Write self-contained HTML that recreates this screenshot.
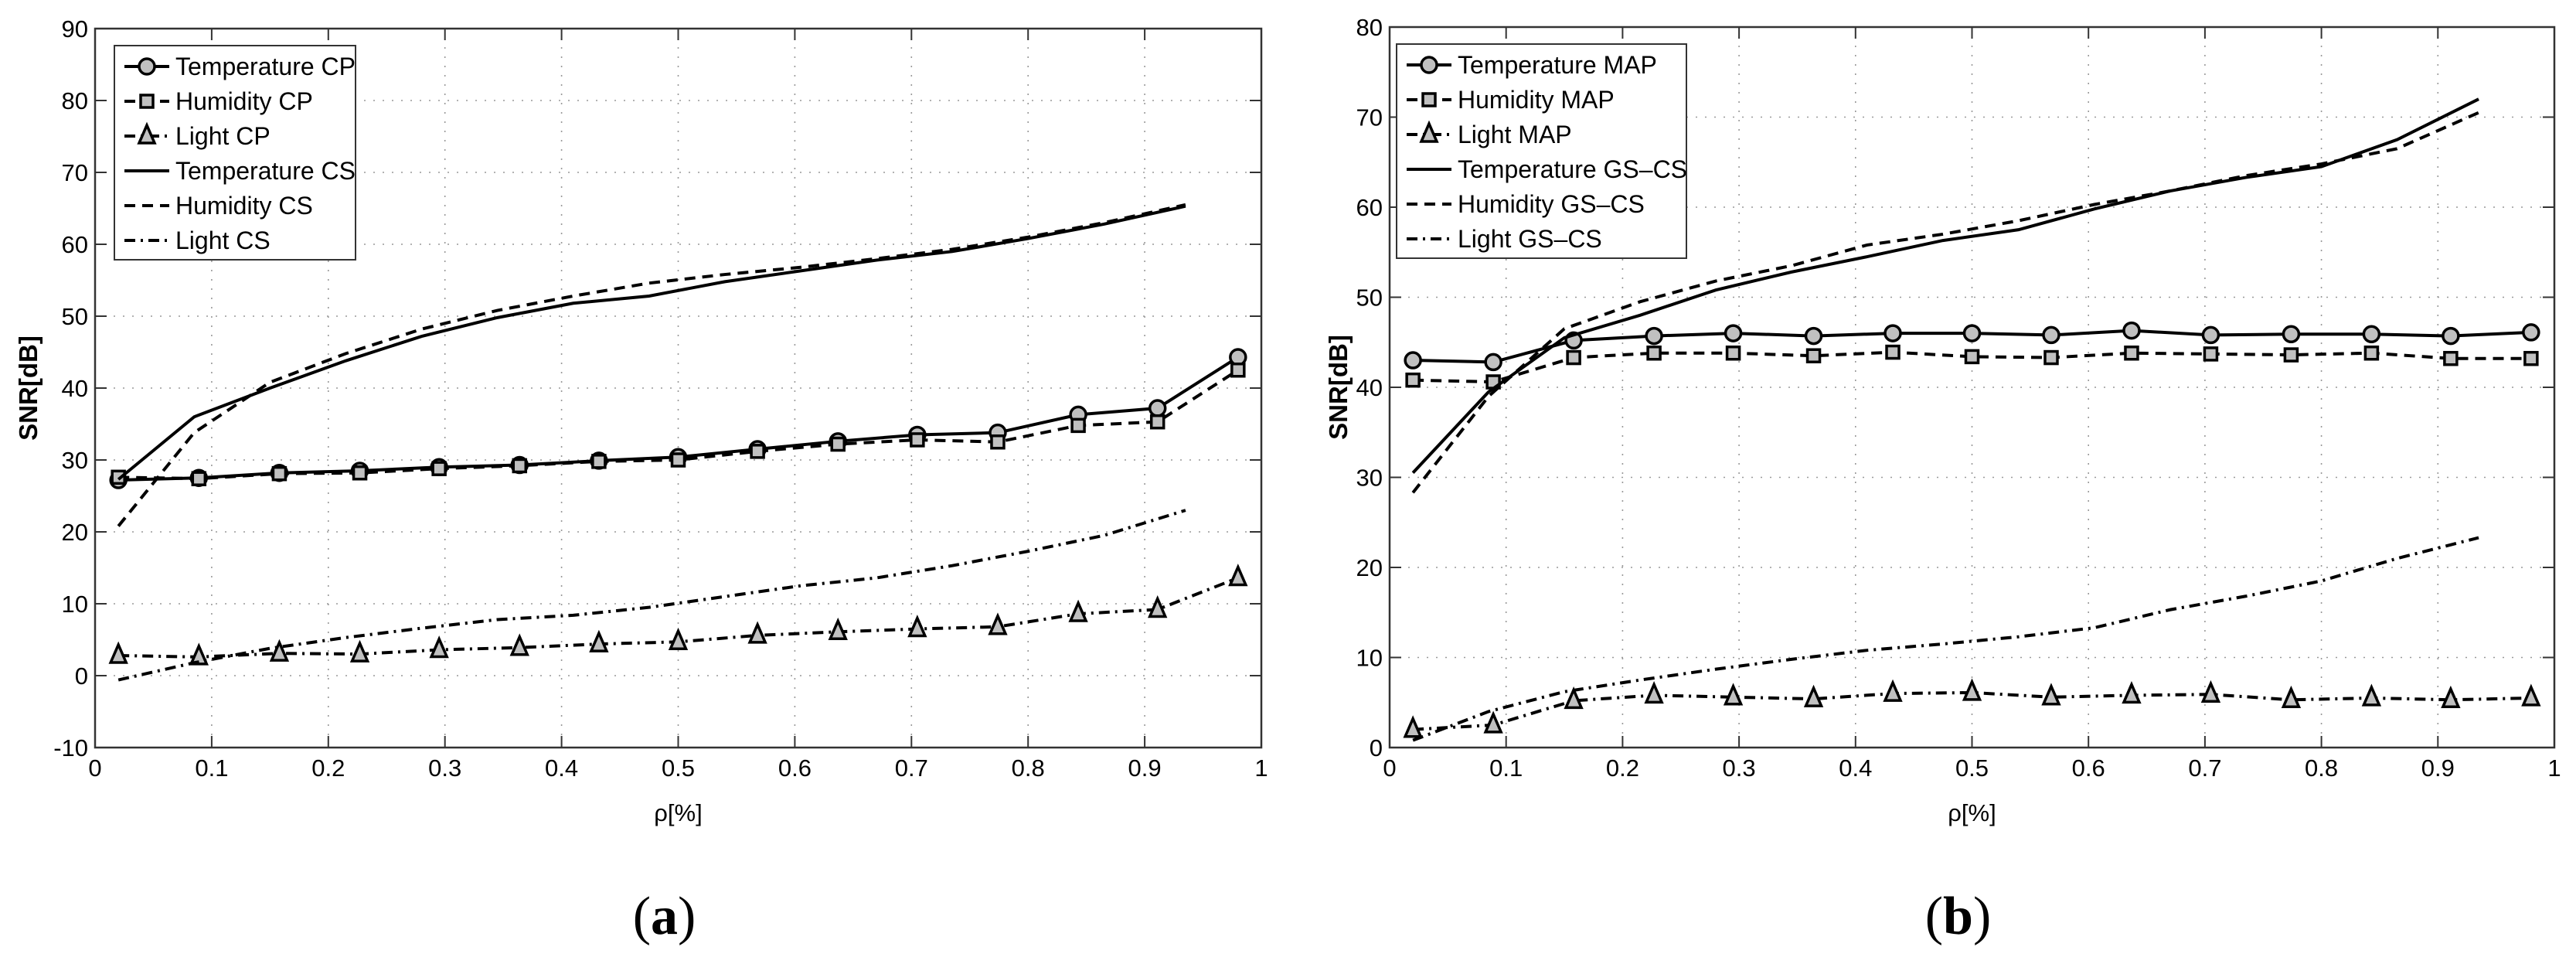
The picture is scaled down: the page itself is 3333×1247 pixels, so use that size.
<!DOCTYPE html>
<html><head><meta charset="utf-8"><style>
html,body{margin:0;padding:0;background:#fff;}
svg{display:block;font-family:"Liberation Sans",sans-serif;}
</style></head><body>
<svg id="fig" width="3333" height="1247" viewBox="0 0 3333 1247" xmlns="http://www.w3.org/2000/svg"></svg>
<script>
// ---- data ----
const cpX = [0.02,0.089,0.158,0.227,0.295,0.364,0.432,0.5,0.568,0.637,0.705,0.774,0.843,0.911,0.98];
const csX = [0.02,0.085,0.15,0.215,0.28,0.345,0.41,0.475,0.54,0.605,0.67,0.735,0.80,0.865,0.935];
const xTicks = [0,0.1,0.2,0.3,0.4,0.5,0.6,0.7,0.8,0.9,1];
const xTickLabels = ["0","0.1","0.2","0.3","0.4","0.5","0.6","0.7","0.8","0.9","1"];
// panel a
const aTempCP = [27.2,27.5,28.2,28.5,29.0,29.3,29.9,30.4,31.5,32.6,33.5,33.8,36.3,37.2,44.3];
const aHumCP  = [27.6,27.4,28.1,28.2,28.8,29.2,29.8,30.0,31.2,32.2,32.8,32.5,34.8,35.3,42.5];
const aLightCP= [2.8,2.6,3.1,3.0,3.6,3.9,4.4,4.7,5.6,6.1,6.5,6.8,8.6,9.2,13.6];
const aTempCS = [27.3,36.0,40.0,43.8,47.2,49.8,51.8,52.8,54.8,56.3,57.8,59.0,60.8,62.8,65.3];
const aHumCS  = [20.8,33.8,40.8,44.8,48.2,50.8,52.8,54.6,55.8,56.8,58.0,59.3,61.0,63.0,65.5];
const aLightCS= [-0.6,1.8,3.8,5.3,6.6,7.8,8.4,9.5,11.0,12.5,13.6,15.3,17.3,19.5,23.0];
const aYTicks = [-10,0,10,20,30,40,50,60,70,80,90];
const aLegend = ["Temperature CP","Humidity CP","Light CP","Temperature CS","Humidity CS","Light CS"];
// panel b
const bTempMAP = [43.0,42.8,45.2,45.7,46.0,45.7,46.0,46.0,45.8,46.3,45.8,45.9,45.9,45.7,46.1];
const bHumMAP  = [40.8,40.6,43.3,43.8,43.8,43.5,43.9,43.4,43.3,43.8,43.7,43.6,43.8,43.2,43.2];
const bLightMAP= [2.0,2.5,5.2,5.8,5.6,5.4,6.0,6.1,5.6,5.8,5.9,5.3,5.5,5.3,5.5];
const bTempGS  = [30.5,39.5,45.5,48.0,50.8,52.8,54.5,56.3,57.5,59.8,61.8,63.3,64.5,67.5,72.0];
const bHumGS   = [28.3,39.0,46.5,49.5,51.8,53.5,55.8,57.0,58.5,60.3,61.8,63.5,64.8,66.5,70.5];
const bLightGS = [0.8,4.0,6.2,7.5,8.7,9.8,10.8,11.5,12.3,13.3,15.3,16.8,18.5,21.0,23.3];
const bYTicks = [0,10,20,30,40,50,60,70,80];
const bLegend = ["Temperature MAP","Humidity MAP","Light MAP","Temperature GS\u2013CS","Humidity GS\u2013CS","Light GS\u2013CS"];

const NS="http://www.w3.org/2000/svg";
const svg=document.getElementById('fig');
function mk(tag,attrs,parent){const e=document.createElementNS(NS,tag);for(const k in attrs)e.setAttribute(k,attrs[k]);(parent||svg).appendChild(e);return e;}

const DASH={solid:"",dash:"14,9",dashdot:"14,7,3,7"};

function panel(p){
  const g=mk('g',{});
  
  
  const X=v=>p.x0+(v-0)*(p.x1-p.x0);
  const Y=v=>p.yb-(v-p.ymin)/(p.ymax-p.ymin)*(p.yb-p.yt);
  const grid=mk('g',{},g);
  
  
  xTicks.forEach(t=>{if(t>0&&t<1)mk('line',{x1:X(t),x2:X(t),y1:p.yt,y2:p.yb,stroke:'#999','stroke-width':1.6,'stroke-dasharray':'2,10'},grid);});
  p.yTicks.forEach(t=>{if(t>p.ymin&&t<p.ymax)mk('line',{x1:p.x0,x2:p.x1,y1:Y(t),y2:Y(t),stroke:'#999','stroke-width':1.6,'stroke-dasharray':'2,10'},grid);});
  xTicks.forEach((t,i)=>{
    mk('line',{x1:X(t),x2:X(t),y1:p.yb,y2:p.yb-15,stroke:'#333','stroke-width':2},g);
    mk('line',{x1:X(t),x2:X(t),y1:p.yt,y2:p.yt+15,stroke:'#333','stroke-width':2},g);
    const tx=mk('text',{x:X(t),y:p.yb+37,'font-size':31,'text-anchor':'middle'},g);
    tx.textContent=xTickLabels[i];
    
    
  });
  p.yTicks.forEach(t=>{
    mk('line',{x1:p.x0,x2:p.x0+15,y1:Y(t),y2:Y(t),stroke:'#333','stroke-width':2},g);
    mk('line',{x1:p.x1,x2:p.x1-15,y1:Y(t),y2:Y(t),stroke:'#333','stroke-width':2},g);
    const tx=mk('text',{x:p.x0-9,y:Y(t)+11,'font-size':31,'text-anchor':'end'},g);
    tx.textContent=String(t);
    
    
  });
  mk('rect',{x:p.x0,y:p.yt,width:p.x1-p.x0,height:p.yb-p.yt,fill:'none',stroke:'#333','stroke-width':2.5},g);
  p.series.forEach(s=>{
    const sg=mk('g',{},g);
    
    
    const pts=s.y.map((v,i)=>X(s.x[i])+','+Y(v)).join(' ');
    mk('polyline',{points:pts,fill:'none',stroke:'#000','stroke-width':4,'stroke-dasharray':DASH[s.dash]},sg);
    s.y.forEach((v,i)=>marker(sg,s.m,X(s.x[i]),Y(v)));
  });
  const lg=mk('g',{},g);
  
  
  mk('rect',{x:p.lx,y:p.ly,width:p.lw,height:277,fill:'#fff',stroke:'#333','stroke-width':2},lg);
  p.series.forEach((s,i)=>{
    const yy=p.ly+27+i*45;
    const eg=mk('g',{},lg);
    
    
    mk('line',{x1:p.lx+13,x2:p.lx+71,y1:yy,y2:yy,stroke:'#000','stroke-width':4,'stroke-dasharray':DASH[s.dash]},eg);
    marker(eg,s.m,p.lx+42,yy);
    const t=mk('text',{x:p.lx+79,y:yy+11,'font-size':32},eg);
    t.textContent=p.legend[i];
  });
  const yl=mk('text',{x:0,y:0,'font-size':33,'font-weight':'bold','text-anchor':'middle',transform:`translate(${p.ylx},${(p.yt+p.yb)/2}) rotate(-90)`},g);
  yl.textContent='SNR[dB]';
  
  
  const xl=mk('text',{x:(p.x0+p.x1)/2,y:1062,'font-size':31,'text-anchor':'middle'},g);
  xl.textContent='ρ[%]';
  
  
  const cap=mk('text',{x:(p.x0+p.x1)/2-18,y:1208,'font-size':70,'text-anchor':'middle','font-family':'Liberation Serif, serif'},g);
  cap.innerHTML='(<tspan font-weight="bold">'+p.cap+'</tspan>)';
  
  
}
function marker(g,m,x,y){
  if(m==='o')mk('circle',{cx:x,cy:y,r:10,fill:'#c0c0c0',stroke:'#000','stroke-width':3.5},g);
  else if(m==='s')mk('rect',{x:x-8,y:y-8,width:16,height:16,fill:'#c0c0c0',stroke:'#000','stroke-width':3.5},g);
  else if(m==='^')mk('polygon',{points:`${x},${y-14} ${x-10},${y+9} ${x+10},${y+9}`,fill:'#c0c0c0',stroke:'#000','stroke-width':3.5},g);
}
panel({name:'panel-a',x0:123,x1:1632,yt:37,yb:967,ymin:-10,ymax:90,yTicks:aYTicks,lx:148,ly:59,lw:312,ylx:48,cap:'a',legend:aLegend,
  series:[{id:'temperature-cp',x:cpX,y:aTempCP,dash:'solid',m:'o'},{id:'humidity-cp',x:cpX,y:aHumCP,dash:'dash',m:'s'},{id:'light-cp',x:cpX,y:aLightCP,dash:'dashdot',m:'^'},
  {id:'temperature-cs',x:csX,y:aTempCS,dash:'solid'},{id:'humidity-cs',x:csX,y:aHumCS,dash:'dash'},{id:'light-cs',x:csX,y:aLightCS,dash:'dashdot'}]});
panel({name:'panel-b',x0:1798,x1:3305,yt:35,yb:967,ymin:0,ymax:80,yTicks:bYTicks,lx:1807,ly:57,lw:375,ylx:1743,cap:'b',legend:bLegend,
  series:[{id:'temperature-map',x:cpX,y:bTempMAP,dash:'solid',m:'o'},{id:'humidity-map',x:cpX,y:bHumMAP,dash:'dash',m:'s'},{id:'light-map',x:cpX,y:bLightMAP,dash:'dashdot',m:'^'},
  {id:'temperature-gs-cs',x:csX,y:bTempGS,dash:'solid'},{id:'humidity-gs-cs',x:csX,y:bHumGS,dash:'dash'},{id:'light-gs-cs',x:csX,y:bLightGS,dash:'dashdot'}]});
</script>
</body></html>
